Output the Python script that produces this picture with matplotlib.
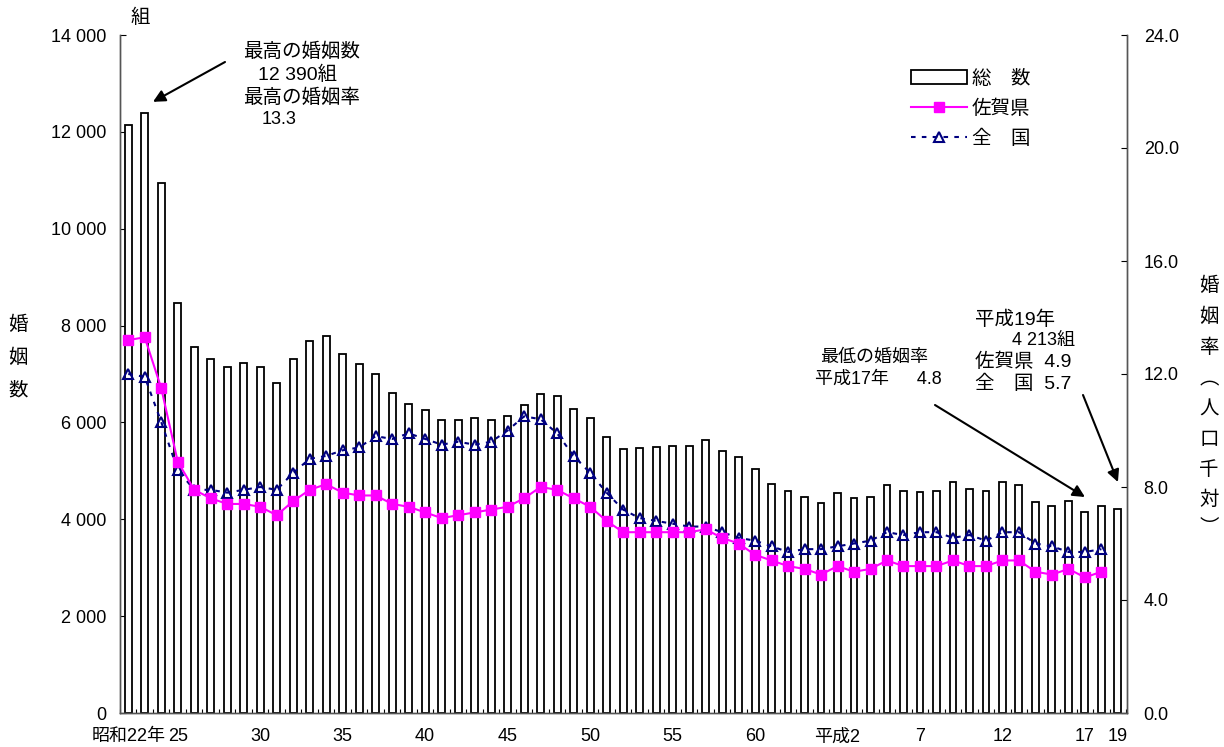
#
# plot.py
# -------
# Marriages in Saga prefecture, S22 - H19,
# bars = count, lines = rate per 1000.
#

import numpy as np
import matplotlib
matplotlib.use("Agg")
import matplotlib.pyplot as plt
from matplotlib.patches import Rectangle
from matplotlib.lines import Line2D
from matplotlib.ticker import FuncFormatter

plt.rcParams['font.family'] = ['Liberation Sans', 'Noto Sans CJK JP', 'DejaVu Sans']

# 昭和22 .. 平成19 (61 years)
years = ['S%d' % y for y in range(22, 64)] + ['H%d' % y for y in range(1, 20)]

total = [12150, 12390, 10950, 8460, 7550, 7310, 7150, 7230, 7140, 6820,
         7300, 7680, 7790, 7410, 7210, 7010, 6610, 6390, 6250, 6040,
         6060, 6090, 6060, 6130, 6350, 6590, 6540, 6280, 6100, 5700,
         5450, 5470, 5490, 5520, 5510, 5640, 5400, 5290, 5030, 4730,
         4580, 4470, 4340, 4540, 4430, 4450, 4710, 4590, 4560, 4590,
         4780, 4630, 4590, 4760, 4710, 4360, 4270, 4380, 4160, 4280,
         4213]

# rates are drawn up to 平成18
saga_rate = [13.2, 13.3, 11.5, 8.9, 7.9, 7.6, 7.4, 7.4, 7.3, 7.0,
             7.5, 7.9, 8.1, 7.8, 7.7, 7.7, 7.4, 7.3, 7.1, 6.9,
             7.0, 7.1, 7.2, 7.3, 7.6, 8.0, 7.9, 7.6, 7.3, 6.8,
             6.4, 6.4, 6.4, 6.4, 6.4, 6.5, 6.2, 6.0, 5.6, 5.4,
             5.2, 5.1, 4.9, 5.2, 5.0, 5.1, 5.4, 5.2, 5.2, 5.2,
             5.4, 5.2, 5.2, 5.4, 5.4, 5.0, 4.9, 5.1, 4.8, 5.0]

japan_rate = [12.0, 11.9, 10.3, 8.6, 7.9, 7.9, 7.8, 7.9, 8.0, 7.9,
              8.5, 9.0, 9.1, 9.3, 9.4, 9.8, 9.7, 9.9, 9.7, 9.5,
              9.6, 9.5, 9.6, 10.0, 10.5, 10.4, 9.9, 9.1, 8.5, 7.8,
              7.2, 6.9, 6.8, 6.7, 6.6, 6.6, 6.4, 6.2, 6.1, 5.9,
              5.7, 5.8, 5.8, 5.9, 6.0, 6.1, 6.4, 6.3, 6.4, 6.4,
              6.2, 6.3, 6.1, 6.4, 6.4, 6.0, 5.9, 5.7, 5.7, 5.8]

tick_years = ['S22', 'S25', 'S30', 'S35', 'S40', 'S45', 'S50', 'S55', 'S60',
              'H2', 'H7', 'H12', 'H17', 'H19']
tick_labels = ['昭和22年', '25', '30', '35', '40', '45', '50', '55', '60',
               '平成2', '7', '12', '17', '19']

FS = 13      # numbers
JFS = 14     # japanese notes
W, H = 1224, 747


def fx(px):
    return px / W


def fy(py):
    return 1 - py / H


fig = plt.figure(figsize=(12.24, 7.47), dpi=100)
ax = fig.add_axes([fx(120), fy(713), fx(1127) - fx(120), fy(35) - fy(713)])
ax2 = ax.twinx()

x = np.arange(len(years))
ax.bar(x, total, width=0.42, facecolor='white', edgecolor='black', linewidth=1.3, zorder=2)

xr = np.arange(len(saga_rate))
ax2.plot(xr, japan_rate, color='#000080', linestyle=(0, (2.2, 3.0)), linewidth=1.5,
         marker='^', markersize=7, markerfacecolor='none', markeredgecolor='#000080',
         markeredgewidth=1.5, zorder=3)
ax2.plot(xr, saga_rate, color='#FF00FF', linewidth=1.5, marker='s', markersize=7.5,
         markerfacecolor='#FF00FF', markeredgecolor='#FF00FF', zorder=4)

ax.set_xlim(-0.5, len(years) - 0.45)
ax.set_ylim(0, 14000)
ax2.set_ylim(0, 24)
ax.set_yticks(np.arange(0, 14001, 2000))
ax2.set_yticks(np.arange(0, 24.1, 4))
ax.yaxis.set_major_formatter(FuncFormatter(lambda v, p: '{:,}'.format(int(v)).replace(',', ' ')))
ax2.yaxis.set_major_formatter(FuncFormatter(lambda v, p: '%.1f' % v))

ax.set_xticks([years.index(t) for t in tick_years])
ax.set_xticklabels(tick_labels)
ax.set_xticks(np.arange(len(years) + 1) - 0.5, minor=True)
ax.tick_params(axis='x', which='major', length=0, labelsize=FS, pad=11)
ax.tick_params(axis='x', which='minor', direction='in', length=3, width=0.8)
ax.tick_params(axis='y', direction='in', length=4, labelsize=FS, pad=10)
ax2.tick_params(axis='y', direction='in', length=4, labelsize=FS, pad=12)

for a in (ax, ax2):
    a.spines['top'].set_visible(False)
    for s in ('left', 'right', 'bottom'):
        a.spines[s].set_color('#555555')
        a.spines[s].set_linewidth(1.0)

# axis titles
fig.text(fx(140), fy(18), '組', fontsize=JFS, ha='center', va='center')
for i, ch in enumerate('婚姻数'):
    fig.text(fx(18), fy(325 + 33 * i), ch, fontsize=JFS, ha='center', va='center')
for i, ch in enumerate('婚姻率'):
    fig.text(fx(1209), fy(286 + 31 * i), ch, fontsize=JFS, ha='center', va='center')
for i, ch in enumerate('︵人口千対'):
    fig.text(fx(1209), fy(380 + 30 * i), ch, fontsize=JFS, ha='center', va='center')
fig.text(fx(1209), fy(528), '︶', fontsize=JFS, ha='center', va='center')

# legend
handles = [Rectangle((0, 0), 1, 1, facecolor='white', edgecolor='black', linewidth=1.3),
           Line2D([], [], color='#FF00FF', linewidth=1.5, marker='s', markersize=7.5),
           Line2D([], [], color='#000080', linestyle=(0, (2.2, 3.0)), linewidth=1.5,
                  marker='^', markersize=7, markerfacecolor='none', markeredgewidth=1.5)]
ax2.legend(handles, ['総　数', '佐賀県', '全　国'], loc='upper left',
           bbox_to_anchor=(fx(901), fy(60)), bbox_transform=fig.transFigure,
           frameon=False, fontsize=JFS, handlelength=2.9, handletextpad=0.25,
           labelspacing=0.6, borderpad=0)

# notes
fig.text(fx(243), fy(52), '最高の婚姻数', fontsize=JFS, va='center')
fig.text(fx(258), fy(75), '12 390組', fontsize=JFS, va='center')
fig.text(fx(243), fy(98), '最高の婚姻率', fontsize=JFS, va='center')
fig.text(fx(262), fy(120), '13.3', fontsize=FS, va='center')

fig.text(fx(820), fy(357), '最低の婚姻率', fontsize=FS, va='center')
fig.text(fx(815), fy(379), '平成17年　  4.8', fontsize=FS, va='center')

fig.text(fx(975), fy(320), '平成19年', fontsize=JFS, va='center')
fig.text(fx(1012), fy(341), '4 213組', fontsize=FS, va='center')
fig.text(fx(975), fy(362), '佐賀県  4.9', fontsize=JFS, va='center')
fig.text(fx(975), fy(384), '全　国  5.7', fontsize=JFS, va='center')

arrow = dict(arrowstyle='-|>', color='black', lw=1.5, mutation_scale=18, shrinkA=0, shrinkB=0)
ax.annotate('', xy=(1.5, 12620), xytext=(225, H - 62), textcoords='figure pixels',
            arrowprops=arrow)
ax.annotate('', xy=(years.index('H17'), 4460), xytext=(935, H - 405),
            textcoords='figure pixels', arrowprops=arrow)
ax.annotate('', xy=(years.index('H19'), 4770), xytext=(1083, H - 395),
            textcoords='figure pixels', arrowprops=arrow)

fig.savefig('out.png', dpi=100)
